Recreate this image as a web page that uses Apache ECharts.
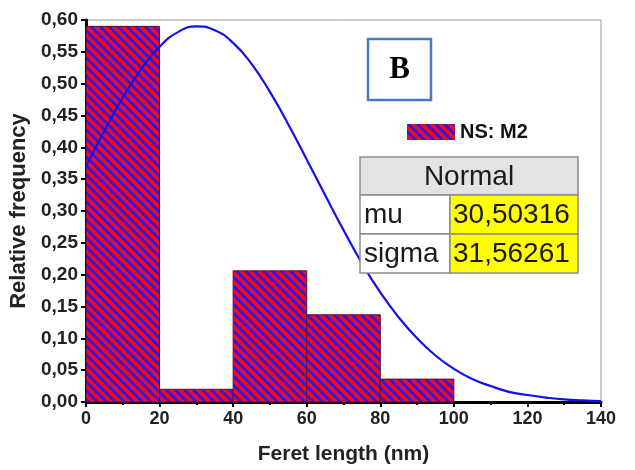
<!DOCTYPE html>
<html>
<head>
<meta charset="utf-8">
<script src="https://cdn.jsdelivr.net/npm/echarts@6/dist/echarts.min.js"></script>
<style>html,body{margin:0;padding:0;background:#fff;}#c{width:635px;height:470px;}</style>
</head>
<body>
<div id="c"></div>
<script>
// Histogram bins: [start, end, relative frequency]
var binStarts = [0, 20, 40, 60, 80];
var binEnds = [20, 40, 60, 80, 100];
var binFreq = [0.59, 0.02, 0.206, 0.137, 0.036];
// Fitted normal curve
var curveX = [0, 5, 10, 15, 20, 25, 30, 35, 40, 45, 50, 55, 60, 65, 70, 75, 80, 85, 90, 95, 100, 105, 110, 115, 120, 125, 130, 135, 140];
var curveY = [0.370, 0.426, 0.478, 0.523, 0.558, 0.581, 0.590, 0.584, 0.564, 0.531, 0.487, 0.436, 0.381, 0.325, 0.270, 0.218, 0.172, 0.133, 0.100, 0.073, 0.052, 0.036, 0.025, 0.016, 0.011, 0.007, 0.004, 0.0025, 0.0014];
var seriesName = 'NS: M2';
var tableTitle = 'Normal';
var paramNames = ['mu', 'sigma'];
var paramValues = ['30,50316', '31,56261'];
var panelLabel = 'B';

function makePattern() {
  var s = 9;
  var cv = document.createElement('canvas');
  cv.width = s; cv.height = s;
  var ctx = cv.getContext('2d');
  for (var y = 0; y < s; y++) {
    for (var x = 0; x < s; x++) {
      var d = ((x - y) % s + s) % s;
      ctx.fillStyle = (d < 4) ? '#3e14d4' : '#ee0a26';
      ctx.fillRect(x, y, 1, 1);
    }
  }
  return { image: cv, repeat: 'repeat' };
}
var pat = makePattern();

var barData = binStarts.map(function (s, i) { return [s, binEnds[i], binFreq[i]]; });
var curveData = curveX.map(function (x, i) { return [x, curveY[i]]; });

var chart = echarts.init(document.getElementById('c'), null, { renderer: 'canvas' });

var FONT = '"Liberation Sans", Arial, sans-serif';
var tblL = 360, tblT = 157, colW1 = 90, colW2 = 128, hdrH = 38, rowH = 39;
var graphics = [
  { type: 'rect', shape: { x: 368, y: 39, width: 63, height: 61 }, style: { fill: '#fff', stroke: '#4a78c8', lineWidth: 2.5 }, z: 100 },
  { type: 'text', x: 399.5, y: 70, style: { text: panelLabel, font: 'bold 31px "Liberation Serif", serif', fill: '#000', align: 'center', verticalAlign: 'middle' }, z: 101 },
  { type: 'rect', shape: { x: tblL, y: tblT, width: colW1 + colW2, height: hdrH }, style: { fill: '#e3e3e3', stroke: '#8c8c8c', lineWidth: 1.5 }, z: 100 },
  { type: 'text', x: tblL + (colW1 + colW2) / 2, y: tblT + hdrH / 2 + 1, style: { text: tableTitle, font: '28px ' + FONT, fill: '#1a1a1a', align: 'center', verticalAlign: 'middle' }, z: 101 }
];
paramNames.forEach(function (n, i) {
  var y = tblT + hdrH + i * rowH;
  graphics.push({ type: 'rect', shape: { x: tblL, y: y, width: colW1, height: rowH }, style: { fill: '#fff', stroke: '#8c8c8c', lineWidth: 1.5 }, z: 100 });
  graphics.push({ type: 'rect', shape: { x: tblL + colW1, y: y, width: colW2, height: rowH }, style: { fill: '#ffff00', stroke: '#8c8c8c', lineWidth: 1.5 }, z: 100 });
  graphics.push({ type: 'text', x: tblL + 4, y: y + rowH / 2 + 1, style: { text: n, font: '28px ' + FONT, fill: '#1a1a1a', align: 'left', verticalAlign: 'middle' }, z: 101 });
  graphics.push({ type: 'text', x: tblL + colW1 + 3, y: y + rowH / 2 + 1, style: { text: paramValues[i], font: '28px ' + FONT, fill: '#1a1a1a', align: 'left', verticalAlign: 'middle' }, z: 101 });
});

chart.setOption({
  animation: false,
  backgroundColor: '#fff',
  grid: { left: 86, right: 34, top: 20, bottom: 66, show: true, borderColor: '#999', borderWidth: 1, backgroundColor: 'transparent' },
  legend: {
    data: [{ name: seriesName, icon: 'rect' }], left: 402, top: 117, itemWidth: 48, itemHeight: 16, itemGap: 6,
    itemStyle: { borderWidth: 0 },
    textStyle: { fontFamily: FONT, fontWeight: 'bold', fontSize: 20, color: '#111' }
  },
  xAxis: {
    type: 'value', min: 0, max: 140, interval: 20,
    name: 'Feret length (nm)', nameLocation: 'middle', nameGap: 42,
    nameTextStyle: { fontFamily: FONT, fontWeight: 'bold', fontSize: 21, color: '#222' },
    axisLine: { show: true, lineStyle: { color: '#000', width: 3 } },
    axisTick: { show: true, inside: false, length: 5, lineStyle: { color: '#000', width: 2 } },
    minorTick: { show: true, splitNumber: 2, length: 3, lineStyle: { color: '#000', width: 2 } },
    splitLine: { show: false },
    axisLabel: { margin: 8, fontFamily: FONT, fontWeight: 'bold', fontSize: 18, color: '#222' }
  },
  yAxis: {
    type: 'value', min: 0, max: 0.6, interval: 0.05,
    name: 'Relative frequency', nameLocation: 'middle', nameGap: 46,
    nameTextStyle: { fontFamily: FONT, fontWeight: 'bold', fontSize: 22, color: '#222' },
    axisLine: { show: true, lineStyle: { color: '#000', width: 3 } },
    axisTick: { show: true, inside: false, length: 5, lineStyle: { color: '#000', width: 2 } },
    splitLine: { show: false },
    axisLabel: {
      margin: 8, fontFamily: FONT, fontWeight: 'bold', fontSize: 19, color: '#222',
      formatter: function (v) { return v.toFixed(2).replace('.', ','); }
    }
  },
  series: [
    {
      name: seriesName, type: 'custom', data: barData,
      encode: { x: [0, 1], y: 2 },
      itemStyle: { color: pat, borderColor: '#5a1030', borderWidth: 0 },
      renderItem: function (params, api) {
        var x0 = api.value(0), x1 = api.value(1), y = api.value(2);
        var p0 = api.coord([x0, y]);
        var p1 = api.coord([x1, 0]);
        return {
          type: 'rect',
          shape: { x: p0[0], y: p0[1], width: p1[0] - p0[0], height: p1[1] - p0[1] },
          style: { fill: pat, stroke: '#5a1030', lineWidth: 1 }
        };
      },
      z: 2
    },
    {
      name: 'Normal fit', type: 'line', data: curveData, smooth: true, showSymbol: false,
      lineStyle: { color: '#1010f0', width: 2.2 }, itemStyle: { color: '#1010f0' }, z: 3
    }
  ],
  graphic: graphics
});
</script>
</body>
</html>
